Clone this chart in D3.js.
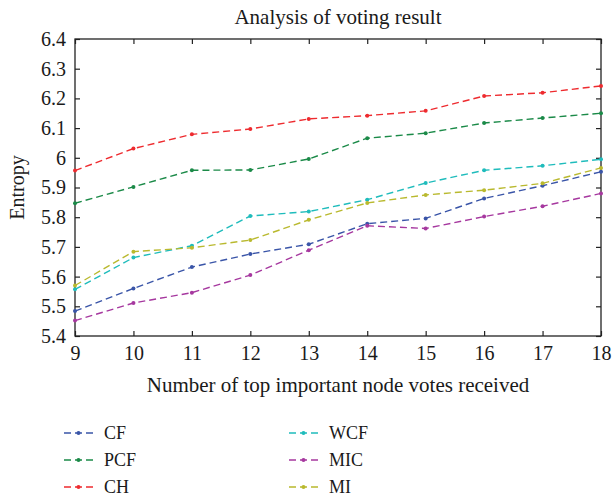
<!DOCTYPE html>
<html><head><meta charset="utf-8">
<script src="https://cdn.jsdelivr.net/npm/d3@7"></script>
<style>body{margin:0;background:#fff}svg{display:block}</style>
</head><body>
<script>
const xValues = [9,10,11,12,13,14,15,16,17,18];
const seriesNames = ["CF","PCF","CH","WCF","MIC","MI"];
const CF  = [5.484,5.560,5.632,5.676,5.709,5.778,5.796,5.863,5.906,5.953];
const PCF = [5.847,5.902,5.958,5.959,5.996,6.066,6.083,6.117,6.134,6.150];
const CH  = [5.957,6.031,6.079,6.097,6.131,6.142,6.158,6.208,6.219,6.242];
const WCF = [5.557,5.664,5.704,5.804,5.819,5.859,5.915,5.958,5.973,5.995];
const MIC = [5.452,5.511,5.546,5.605,5.689,5.771,5.762,5.802,5.837,5.880];
const MI  = [5.570,5.684,5.697,5.723,5.791,5.848,5.875,5.891,5.914,5.966];
const yTicks = [5.4,5.5,5.6,5.7,5.8,5.9,6,6.1,6.2,6.3,6.4];
const colors = {CF:"#3a55a8",PCF:"#1b8a48",CH:"#ee2b2f",WCF:"#1fbcbc",MIC:"#a6389f",MI:"#b9b92e"};
const dataMap = {CF,PCF,CH,WCF,MIC,MI};

const FONT = "Liberation Serif";
const W=613,H=496;
const svg=d3.select("body").append("svg").attr("width",W).attr("height",H)
  .attr("font-family",FONT);
const L=75,R=601,T=39,B=336;
const x=d3.scaleLinear().domain([9,18]).range([L,R]);
const y=d3.scaleLinear().domain([5.4,6.4]).range([B,T]);

svg.append("rect").attr("x",L).attr("y",T).attr("width",R-L).attr("height",B-T)
  .attr("fill","none").attr("stroke","#222").attr("stroke-width",1.3);

const tk=5;
const gl=svg.append("g").attr("transform",`translate(${L},0)`)
  .call(d3.axisLeft(y).tickValues(yTicks).tickSize(-tk).tickPadding(9).tickFormat(d=>String(+d.toFixed(1))));
gl.select(".domain").remove();
const gr=svg.append("g").attr("transform",`translate(${R},0)`)
  .call(d3.axisRight(y).tickValues(yTicks).tickSize(-tk).tickFormat(""));
gr.select(".domain").remove();
const gb=svg.append("g").attr("transform",`translate(0,${B})`)
  .call(d3.axisBottom(x).tickValues(xValues).tickSize(-tk).tickPadding(10).tickFormat(d3.format("d")));
gb.select(".domain").remove();
const gt=svg.append("g").attr("transform",`translate(0,${T})`)
  .call(d3.axisTop(x).tickValues(xValues).tickSize(-tk).tickFormat(""));
gt.select(".domain").remove();
[gl,gr,gb,gt].forEach(g=>g.attr("font-family",FONT).attr("font-size",20));
svg.selectAll(".tick line").attr("stroke","#222").attr("stroke-width",1.2);
svg.selectAll(".tick text").attr("font-family",FONT).attr("font-size",20).attr("fill","#1a1a1a");

const line=d3.line().x((d,i)=>x(xValues[i])).y(d=>y(d));
seriesNames.forEach(n=>{
  svg.append("path").datum(dataMap[n]).attr("d",line).attr("fill","none")
    .attr("stroke",colors[n]).attr("stroke-width",1.4).attr("stroke-dasharray","7,4");
  svg.append("g").selectAll("circle").data(dataMap[n]).join("circle")
    .attr("cx",(d,i)=>x(xValues[i])).attr("cy",d=>y(d)).attr("r",2)
    .attr("fill",colors[n]);
});

svg.append("text").attr("x",(L+R)/2).attr("y",24).attr("text-anchor","middle")
  .attr("font-family",FONT).attr("font-size",21).attr("fill","#1a1a1a").text("Analysis of voting result");
svg.append("text").attr("x",(L+R)/2).attr("y",392).attr("text-anchor","middle")
  .attr("font-family",FONT).attr("font-size",21).attr("fill","#1a1a1a").text("Number of top important node votes received");
svg.append("text").attr("transform",`translate(24,${(T+B)/2}) rotate(-90)`).attr("text-anchor","middle")
  .attr("font-family",FONT).attr("font-size",20).attr("fill","#1a1a1a").text("Entropy");

const legPos=[[64,433],[64,460],[64,487],[289,433],[289,460],[289,487]];
const legOrder=["CF","PCF","CH","WCF","MIC","MI"];
legOrder.forEach((n,i)=>{
  const [lx,ly]=legPos[i];
  const g=svg.append("g").attr("transform",`translate(${lx},${ly})`);
  g.append("line").attr("x1",0).attr("x2",29).attr("y1",0).attr("y2",0)
    .attr("stroke",colors[n]).attr("stroke-width",1.4).attr("stroke-dasharray","7,4");
  g.append("circle").attr("cx",14.5).attr("cy",0).attr("r",2).attr("fill",colors[n]);
  g.append("text").attr("x",40).attr("y",6).attr("font-family",FONT).attr("font-size",18)
    .attr("fill","#1a1a1a").text(n);
});
</script>
</body></html>
